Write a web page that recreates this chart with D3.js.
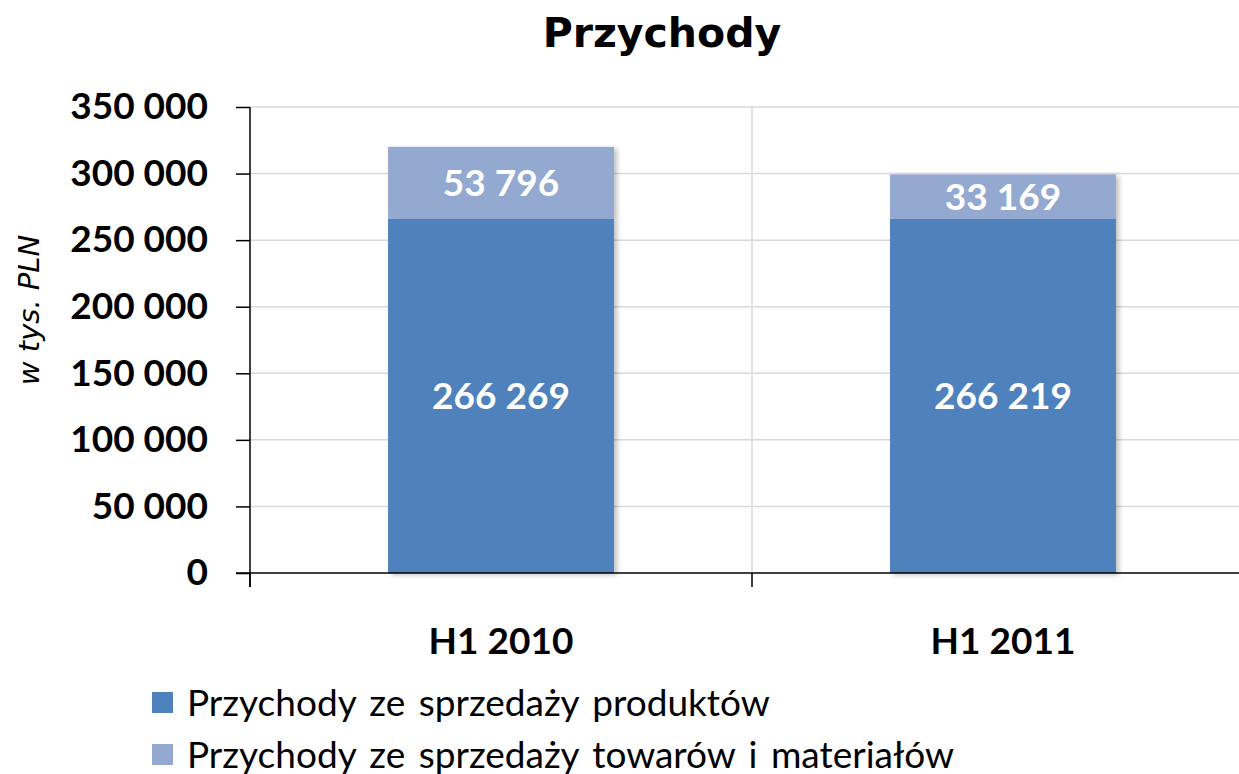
<!DOCTYPE html>
<html lang="pl">
<head>
  <meta charset="UTF-8">
  <title>Przychody</title>
  <script src="https://d3js.org/d3.v7.min.js"></script>
  <style>
    body { margin: 0; background: #fff; }
  </style>
</head>
<body>
  <svg width="1239" height="774"></svg>
  <script>
    // data
    const categories = ['H1 2010', 'H1 2011'];
    const seriesNames = ['Przychody ze sprzedaży produktów', 'Przychody ze sprzedaży towarów i materiałów'];
    const produkty = [266269, 266219];
    const towary = [53796, 33169];
    const yTicks = [0, 50000, 100000, 150000, 200000, 250000, 300000, 350000];
    const colors = ['#4f81bd', '#94a9d0'];

    const svg = d3.select('svg');

    const pl = d3.formatLocale({ decimal: ',', thousands: ' ', grouping: [3], currency: ['', ''] });
    const fmt = pl.format(',');

    const plotLeft = 250, plotRight = 1254, plotTop = 107, plotBottom = 573;

    const x = d3.scaleBand().domain(categories).range([plotLeft, plotRight]).padding(0);
    const y = d3.scaleLinear().domain([0, 350000]).range([plotBottom, plotTop]);

    // drop shadow for bars
    const defs = svg.append('defs');
    const f = defs.append('filter').attr('id', 'shadow')
      .attr('x', '-10%').attr('y', '-10%').attr('width', '130%').attr('height', '130%');
    f.append('feDropShadow')
      .attr('dx', 3).attr('dy', 2).attr('stdDeviation', 2.5)
      .attr('flood-color', '#000').attr('flood-opacity', 0.25);

    // horizontal grid
    svg.append('g')
      .selectAll('line')
      .data(yTicks.filter(d => d > 0))
      .join('line')
      .attr('x1', plotLeft).attr('x2', plotRight)
      .attr('y1', d => y(d)).attr('y2', d => y(d))
      .attr('stroke', '#d9d9d9').attr('stroke-width', 1.5);

    // vertical grid between categories
    svg.append('line')
      .attr('x1', x(categories[1])).attr('x2', x(categories[1]))
      .attr('y1', plotTop).attr('y2', plotBottom)
      .attr('stroke', '#d9d9d9').attr('stroke-width', 1.5);

    // stacked bars
    const stack = d3.stack().keys([0, 1]).value((d, k) => d[k]);
    const rows = categories.map((c, i) => [produkty[i], towary[i]]);
    const layers = stack(rows);
    const barW = x.bandwidth() * 0.45;
    const barX = c => x(c) + (x.bandwidth() - barW) / 2;

    const gBars = svg.append('g').attr('filter', 'url(#shadow)');
    layers.forEach((layer, k) => {
      gBars.selectAll(null)
        .data(layer)
        .join('rect')
        .attr('x', (d, i) => barX(categories[i]))
        .attr('width', barW)
        .attr('y', d => y(d[1]))
        .attr('height', d => y(d[0]) - y(d[1]))
        .attr('fill', colors[k]);
    });

    // value labels
    layers.forEach(layer => {
      svg.append('g')
        .selectAll('text')
        .data(layer)
        .join('text')
        .attr('x', (d, i) => x(categories[i]) + x.bandwidth() / 2)
        .attr('y', d => (y(d[0]) + y(d[1])) / 2)
        .attr('dy', '0.36em')
        .attr('text-anchor', 'middle')
        .attr('fill', '#fff')
        .attr('font-family', 'Lato, sans-serif')
        .attr('font-weight', 'bold')
        .attr('font-size', 37)
        .text(d => fmt(d[1] - d[0]));
    });

    // y axis
    const yAxis = svg.append('g')
      .attr('transform', `translate(${plotLeft},0)`)
      .call(d3.axisLeft(y).tickValues(yTicks).tickFormat(fmt).tickSize(14).tickPadding(28));
    yAxis.select('.domain').attr('d', `M0,${plotTop}V${plotBottom + 14}`).attr('stroke', '#000').attr('stroke-width', 1.5);
    yAxis.selectAll('.tick line').attr('stroke', '#000').attr('stroke-width', 1.5);
    yAxis.selectAll('.tick text')
      .attr('font-family', 'Lato, sans-serif')
      .attr('font-weight', 'bold')
      .attr('font-size', 37)
      .attr('fill', '#000');

    // x axis
    const xAxis = svg.append('g')
      .attr('transform', `translate(0,${plotBottom})`)
      .call(d3.axisBottom(x).tickSize(0).tickPadding(55));
    xAxis.select('.domain').attr('d', `M${plotLeft - 14},0H${plotRight}`).attr('stroke', '#000').attr('stroke-width', 1.5);
    xAxis.selectAll('.tick text')
      .attr('font-family', 'Lato, sans-serif')
      .attr('font-weight', 'bold')
      .attr('font-size', 37)
      .attr('fill', '#000');
    // x tick marks at category boundaries
    svg.append('g')
      .selectAll('line')
      .data(categories)
      .join('line')
      .attr('x1', d => x(d)).attr('x2', d => x(d))
      .attr('y1', plotBottom).attr('y2', plotBottom + 14)
      .attr('stroke', '#000').attr('stroke-width', 1.5);

    // title
    svg.append('text')
      .attr('x', 662).attr('y', 47)
      .attr('text-anchor', 'middle')
      .attr('font-family', 'DejaVu Sans, sans-serif')
      .attr('font-weight', 'bold')
      .attr('font-size', 41)
      .text('Przychody');

    // y label
    svg.append('text')
      .attr('transform', 'translate(39,310) rotate(-90)')
      .attr('text-anchor', 'middle')
      .attr('font-family', 'DejaVu Sans, sans-serif')
      .attr('font-style', 'italic')
      .attr('font-size', 29)
      .text('w tys. PLN');

    // legend
    const legend = svg.append('g')
      .selectAll('g')
      .data(seriesNames)
      .join('g')
      .attr('transform', (d, i) => `translate(152,${703 + i * 52})`);
    legend.append('rect')
      .attr('x', 0).attr('y', -11).attr('width', 21).attr('height', 21)
      .attr('fill', (d, i) => colors[i]);
    legend.append('text')
      .attr('x', 35).attr('dy', '0.35em')
      .attr('font-family', 'Lato, sans-serif')
      .attr('font-size', 37)
      .attr('word-spacing', 4)
      .text(d => d);
  </script>
</body>
</html>
